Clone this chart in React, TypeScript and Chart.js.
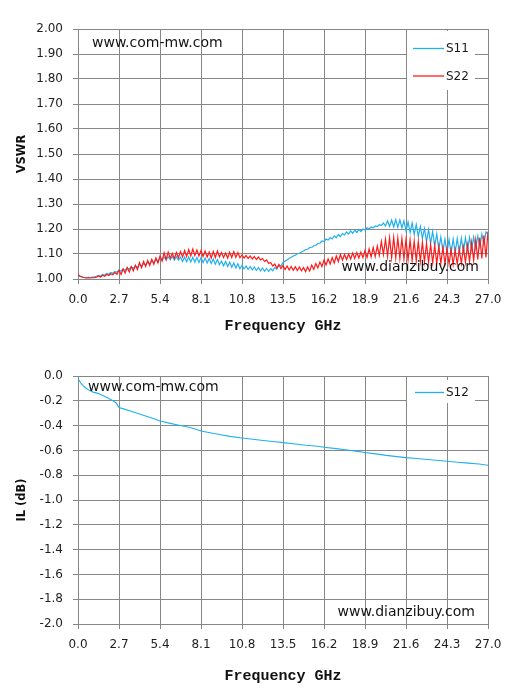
import React, { useEffect, useRef } from "react";
import { Chart, registerables } from "chart.js";

Chart.register(...registerables);

// ---------------- data ----------------
// VSWR sweep: 0 .. 27 GHz, one sample every 0.135 GHz (201 samples)
const FREQ_STEP_GHZ = 0.135;

const S11_VSWR = [
  1.015, 1.010, 1.008, 1.006, 1.005, 1.007, 1.006, 1.008, 1.009, 1.011,
  1.014, 1.011, 1.018, 1.015, 1.022, 1.019, 1.026, 1.023, 1.030, 1.027,
  1.036, 1.031, 1.040, 1.035, 1.045, 1.039, 1.049, 1.043, 1.053, 1.047,
  1.058, 1.052, 1.062, 1.056, 1.067, 1.061, 1.072, 1.066, 1.079, 1.072,
  1.084, 1.075, 1.088, 1.076, 1.089, 1.077, 1.090, 1.076, 1.089, 1.075,
  1.087, 1.070, 1.088, 1.069, 1.088, 1.068, 1.087, 1.067, 1.086, 1.066,
  1.085, 1.066, 1.084, 1.064, 1.082, 1.062, 1.080, 1.059, 1.078, 1.057,
  1.072, 1.053, 1.070, 1.050, 1.067, 1.047, 1.064, 1.044, 1.061, 1.041,
  1.054, 1.040, 1.052, 1.038, 1.050, 1.036, 1.048, 1.034, 1.046, 1.032,
  1.044, 1.031, 1.042, 1.030, 1.041, 1.033, 1.046, 1.040, 1.056, 1.052,
  1.066, 1.072, 1.076, 1.083, 1.086, 1.092, 1.095, 1.101, 1.103, 1.108,
  1.112, 1.118, 1.119, 1.126, 1.127, 1.133, 1.134, 1.142, 1.143, 1.152,
  1.150, 1.160, 1.156, 1.166, 1.160, 1.172, 1.165, 1.178, 1.170, 1.182,
  1.176, 1.188, 1.180, 1.192, 1.183, 1.195, 1.186, 1.198, 1.190, 1.200,
  1.196, 1.205, 1.200, 1.208, 1.205, 1.212, 1.210, 1.217, 1.214, 1.224,
  1.212, 1.232, 1.210, 1.236, 1.208, 1.238, 1.207, 1.236, 1.205, 1.232,
  1.192, 1.228, 1.186, 1.224, 1.178, 1.218, 1.170, 1.210, 1.162, 1.202,
  1.150, 1.198, 1.142, 1.190, 1.132, 1.180, 1.120, 1.168, 1.110, 1.160,
  1.106, 1.158, 1.104, 1.160, 1.105, 1.162, 1.106, 1.163, 1.108, 1.165,
  1.115, 1.166, 1.118, 1.168, 1.122, 1.172, 1.128, 1.180, 1.140, 1.188,
  1.180,
];

const S22_VSWR = [
  1.018, 1.012, 1.008, 1.006, 1.004, 1.005, 1.004, 1.006, 1.005, 1.007,
  1.012, 1.008, 1.015, 1.011, 1.018, 1.014, 1.021, 1.017, 1.026, 1.019,
  1.035, 1.018, 1.040, 1.024, 1.046, 1.028, 1.050, 1.033, 1.055, 1.038,
  1.066, 1.045, 1.070, 1.050, 1.074, 1.054, 1.079, 1.059, 1.084, 1.064,
  1.092, 1.072, 1.105, 1.078, 1.108, 1.083, 1.103, 1.082, 1.106, 1.085,
  1.110, 1.088, 1.114, 1.090, 1.118, 1.092, 1.120, 1.094, 1.116, 1.092,
  1.114, 1.090, 1.112, 1.088, 1.108, 1.084, 1.110, 1.086, 1.112, 1.088,
  1.106, 1.086, 1.104, 1.084, 1.107, 1.086, 1.110, 1.087, 1.106, 1.085,
  1.096, 1.084, 1.094, 1.082, 1.092, 1.080, 1.090, 1.078, 1.088, 1.076,
  1.082, 1.070, 1.076, 1.062, 1.066, 1.052, 1.060, 1.044, 1.058, 1.042,
  1.054, 1.038, 1.052, 1.036, 1.050, 1.035, 1.049, 1.034, 1.048, 1.033,
  1.046, 1.030, 1.048, 1.032, 1.056, 1.038, 1.062, 1.044, 1.068, 1.050,
  1.076, 1.056, 1.080, 1.060, 1.086, 1.064, 1.092, 1.070, 1.098, 1.076,
  1.098, 1.078, 1.100, 1.080, 1.104, 1.082, 1.106, 1.084, 1.108, 1.086,
  1.114, 1.086, 1.120, 1.088, 1.126, 1.090, 1.132, 1.094, 1.150, 1.098,
  1.160, 1.090, 1.165, 1.085, 1.166, 1.084, 1.164, 1.082, 1.162, 1.080,
  1.158, 1.076, 1.156, 1.074, 1.152, 1.072, 1.150, 1.070, 1.146, 1.068,
  1.142, 1.066, 1.138, 1.064, 1.134, 1.062, 1.130, 1.062, 1.126, 1.060,
  1.122, 1.060, 1.118, 1.058, 1.116, 1.060, 1.120, 1.062, 1.128, 1.066,
  1.136, 1.070, 1.146, 1.074, 1.156, 1.078, 1.166, 1.082, 1.175, 1.086,
  1.190,
];

// Insertion loss
const IL_FREQ_GHZ = [
  0, 0.1, 0.2, 0.4, 0.6, 0.8, 1.0, 1.3, 1.6, 2.0, 2.3, 2.5, 2.6, 2.7, 3.0,
  3.5, 4.0, 4.5, 5.0, 5.4, 6.0, 6.5, 7.0, 7.5, 8.1, 8.7, 9.3, 10.0, 10.8,
  11.5, 12.2, 13.0, 13.5, 14.3, 15.0, 15.8, 16.2, 17.0, 17.6, 18.3, 18.9,
  19.6, 20.3, 21.0, 21.6, 22.3, 23.0, 23.6, 24.3, 25.0, 25.7, 26.4, 27.0,
];
const S12_DB = [
  -0.02, -0.04, -0.06, -0.085, -0.105, -0.12, -0.13, -0.14, -0.155, -0.18,
  -0.2, -0.215, -0.235, -0.255, -0.265, -0.285, -0.305, -0.325, -0.345,
  -0.363, -0.38, -0.393, -0.405, -0.42, -0.443, -0.458, -0.472, -0.487,
  -0.5, -0.51, -0.52, -0.53, -0.537, -0.548, -0.558, -0.567, -0.575, -0.586,
  -0.595, -0.606, -0.617, -0.628, -0.64, -0.65, -0.658, -0.665, -0.673,
  -0.68, -0.687, -0.695, -0.703, -0.71, -0.72,
];

const X_MIN = 0;
const X_MAX = 27;
const X_STEP = 2.7;
const VSWR_MIN = 1.0;
const VSWR_MAX = 2.0;
const VSWR_STEP = 0.1;
const IL_MIN = -2.0;
const IL_MAX = 0.0;
const IL_STEP = 0.2;

const X_TITLE = "Frequency GHz";
const WATERMARK_1 = "www.com-mw.com";
const WATERMARK_2 = "www.dianzibuy.com";

// ---------------- styles ----------------
const W = 514;
const H = 348;
const FONT = "'DejaVu Sans', sans-serif";
const GRID = "#878787";
const TICK_COLOR = "#1e1e1e";
const BLUE = "#1fb1ee";
const RED = "#ff1a1a";

type Overlay = {
  wm1: [number, number];
  wm2: [number, number];
  legendBox: [number, number, number, number];
  legendRows: number[];
  lineX: [number, number];
  textX: number;
};

function overlayPlugin(o: Overlay) {
  return {
    id: "overlayTexts",
    afterDraw(chart: any) {
      const ctx = chart.ctx as CanvasRenderingContext2D;
      ctx.save();
      ctx.font = `14px ${FONT}`;
      ctx.fillStyle = "#141414";
      ctx.textBaseline = "middle";
      ctx.textAlign = "left";
      ctx.fillText(WATERMARK_1, o.wm1[0], o.wm1[1]);
      ctx.textAlign = "right";
      ctx.fillText(WATERMARK_2, o.wm2[0], o.wm2[1]);

      const [bx, by, bw, bh] = o.legendBox;
      ctx.fillStyle = "#ffffff";
      ctx.fillRect(bx, by, bw, bh);
      ctx.font = `12px ${FONT}`;
      ctx.textAlign = "left";
      chart.data.datasets.forEach((ds: any, k: number) => {
        const y = o.legendRows[k];
        ctx.strokeStyle = ds.borderColor;
        ctx.lineWidth = 1.3;
        ctx.beginPath();
        ctx.moveTo(o.lineX[0], y);
        ctx.lineTo(o.lineX[1], y);
        ctx.stroke();
        ctx.fillStyle = "#1a1a1a";
        ctx.fillText(ds.label, o.textX, y + 0.5);
      });
      ctx.restore();
    },
  };
}

function buildOptions(p: {
  yMin: number;
  yMax: number;
  yStep: number;
  yDec: number;
  yTitle: string;
  yTitlePad: number;
  top: number;
  xHeight: number;
  xTitlePad: number;
}) {
  return {
    responsive: false,
    animation: false as const,
    events: [],
    layout: { padding: { top: p.top, right: 26, left: 0, bottom: 0 } },
    plugins: { legend: { display: false }, tooltip: { enabled: false } },
    elements: { point: { radius: 0 }, line: { tension: 0 } },
    scales: {
      x: {
        type: "linear" as const,
        min: X_MIN,
        max: X_MAX,
        afterFit: (s: any) => {
          s.height = p.xHeight;
        },
        ticks: {
          stepSize: X_STEP,
          autoSkip: false,
          maxRotation: 0,
          padding: 9,
          color: TICK_COLOR,
          font: { family: FONT, size: 12 },
          callback: (v: any) => Number(v).toFixed(1),
        },
        grid: { color: GRID, lineWidth: 1, tickLength: 5 },
        border: { color: GRID, width: 1 },
        title: {
          display: true,
          text: X_TITLE,
          color: "#111",
          font: { family: "'Liberation Mono', monospace", size: 15, weight: "bold" as const },
          padding: { top: 0, bottom: p.xTitlePad },
        },
      },
      y: {
        type: "linear" as const,
        min: p.yMin,
        max: p.yMax,
        afterFit: (s: any) => {
          s.width = 78;
        },
        ticks: {
          stepSize: p.yStep,
          autoSkip: false,
          padding: 10,
          color: TICK_COLOR,
          font: { family: FONT, size: 12 },
          callback: (v: any) => Number(v).toFixed(p.yDec),
        },
        grid: { color: GRID, lineWidth: 1, tickLength: 5 },
        border: { color: GRID, width: 1 },
        title: {
          display: true,
          text: p.yTitle,
          color: "#111",
          font: { family: FONT, size: 11.5, weight: "bold" as const },
          padding: { top: p.yTitlePad, bottom: 0 },
        },
      },
    },
  };
}

function sweep(values: number[]) {
  return values.map((v, i) => ({ x: Math.round(i * FREQ_STEP_GHZ * 1000) / 1000, y: v }));
}

function VswrChart() {
  const ref = useRef<HTMLCanvasElement | null>(null);
  useEffect(() => {
    if (!ref.current) return;
    const chart = new Chart(ref.current, {
      type: "line",
      data: {
        datasets: [
          { label: "S11", data: sweep(S11_VSWR), borderColor: BLUE, borderWidth: 1.2, order: 1 },
          { label: "S22", data: sweep(S22_VSWR), borderColor: RED, borderWidth: 1.2, order: 0 },
        ],
      },
      options: buildOptions({
        yMin: VSWR_MIN,
        yMax: VSWR_MAX,
        yStep: VSWR_STEP,
        yDec: 2,
        yTitle: "VSWR",
        yTitlePad: 15,
        top: 29,
        xHeight: 69,
        xTitlePad: 13,
      }) as any,
      plugins: [
        overlayPlugin({
          wm1: [92, 43],
          wm2: [479, 267],
          legendBox: [407, 31, 68, 59],
          legendRows: [48.5, 76],
          lineX: [413, 444],
          textX: 446,
        }),
      ],
    });
    return () => chart.destroy();
  }, []);
  return <canvas ref={ref} width={W} height={H} style={{ display: "block", width: W, height: H }} />;
}

function IlChart() {
  const ref = useRef<HTMLCanvasElement | null>(null);
  useEffect(() => {
    if (!ref.current) return;
    const chart = new Chart(ref.current, {
      type: "line",
      data: {
        datasets: [
          {
            label: "S12",
            data: IL_FREQ_GHZ.map((f, i) => ({ x: f, y: S12_DB[i] })),
            borderColor: BLUE,
            borderWidth: 1.1,
          },
        ],
      },
      options: buildOptions({
        yMin: IL_MIN,
        yMax: IL_MAX,
        yStep: IL_STEP,
        yDec: 1,
        yTitle: "IL (dB)",
        yTitlePad: 15,
        top: 28,
        xHeight: 72,
        xTitlePad: 11,
      }) as any,
      plugins: [
        overlayPlugin({
          wm1: [88, 39],
          wm2: [475, 264],
          legendBox: [407, 32, 68, 23],
          legendRows: [44.5],
          lineX: [415, 444],
          textX: 446,
        }),
      ],
    });
    return () => chart.destroy();
  }, []);
  return <canvas ref={ref} width={W} height={H} style={{ display: "block", width: W, height: H }} />;
}

export default function App() {
  return (
    <div
      style={{
        position: "absolute",
        left: 0,
        top: 0,
        width: W,
        height: 2 * H,
        background: "#ffffff",
        overflow: "hidden",
      }}
    >
      <VswrChart />
      <IlChart />
    </div>
  );
}
